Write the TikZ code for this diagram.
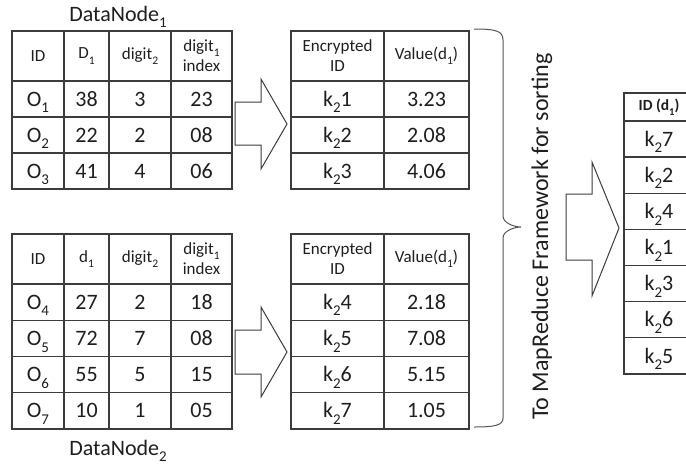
\documentclass[tikz,border=0pt]{standalone}
\usepackage{fontspec}
\setmainfont{Carlito}
\definecolor{gridc}{HTML}{3C3C3C}
\definecolor{inkc}{HTML}{1E1E1E}
\definecolor{bracec}{HTML}{555555}
% lowered, reduced index in the style of a word processor
\newcommand\dsub[1]{\raisebox{-0.30em}{\scalebox{0.68}{#1}}}
\tikzset{
  x=1pt, y=-1pt,
  every node/.style={text=inkc, inner sep=0pt},
  cell/.style={draw=gridc, line width=1.3pt, rectangle, anchor=center},
  headcell/.style={cell, align=center, font=\fontsize{17}{20}\selectfont},
  bodycell/.style={cell, font=\fontsize{22}{26}\selectfont, text height=14.2pt, text depth=0pt},
  blockarrow/.style={draw=gridc, line width=1pt, line join=miter, fill=white},
  nodelabel/.style={anchor=base, font=\fontsize{22}{26}\selectfont},
}
\begin{document}
\begin{tikzpicture}
\useasboundingbox (0,0) rectangle (686,467);
\clip (0,0) rectangle (686,467);

% ---------- DataNode 1 : plain table ----------
\node[nodelabel] (dn1) at (118,21) {DataNode\dsub{1}};
\foreach \cx/\w/\t [count=\c] in {38/52/ID, 86.5/45/D\dsub{1}, 140/62/digit\dsub{2}, 201.5/61/{digit\dsub{1}\\index}}
  \node[headcell, minimum width=\w, minimum height=50] (a-h\c) at (\cx,56) {\t};
\foreach \p/\q/\r/\s [count=\i] in {{O\dsub{1}}/38/3/23, {O\dsub{2}}/22/2/08, {O\dsub{3}}/41/4/06}{
  \node[bodycell, minimum width=52, minimum height=36] (a-\i-1) at (38,{81+36*(\i-1)+18}) {\p};
  \node[bodycell, minimum width=45, minimum height=36] (a-\i-2) at (86.5,{81+36*(\i-1)+18}) {\q};
  \node[bodycell, minimum width=62, minimum height=36] (a-\i-3) at (140,{81+36*(\i-1)+18}) {\r};
  \node[bodycell, minimum width=61, minimum height=36] (a-\i-4) at (201.5,{81+36*(\i-1)+18}) {\s};
}

% ---------- DataNode 1 : encrypted table ----------
\node[headcell, minimum width=93, minimum height=50] (b-h1) at (337.5,56) {Encrypted\\ID};
\node[headcell, minimum width=85, minimum height=50] (b-h2) at (426.5,56) {Value(d\dsub{1})};
\foreach \p/\q [count=\i] in {1/3.23, 2/2.08, 3/4.06}{
  \node[bodycell, minimum width=93, minimum height=36] (b-\i-1) at (337.5,{81+36*(\i-1)+18}) {k\dsub{2}\p};
  \node[bodycell, minimum width=85, minimum height=36] (b-\i-2) at (426.5,{81+36*(\i-1)+18}) {\q};
}

% ---------- DataNode 2 : plain table ----------
\node[nodelabel] (dn2) at (118,455) {DataNode\dsub{2}};
\foreach \cx/\w/\t [count=\c] in {38/52/ID, 86.5/45/d\dsub{1}, 140/62/digit\dsub{2}, 201.5/61/{digit\dsub{1}\\index}}
  \node[headcell, minimum width=\w, minimum height=50] (c-h\c) at (\cx,259) {\t};
\foreach \p/\q/\r/\s [count=\i] in {{O\dsub{4}}/27/2/18, {O\dsub{5}}/72/7/08, {O\dsub{6}}/55/5/15, {O\dsub{7}}/10/1/05}{
  \node[bodycell, minimum width=52, minimum height=36.25] (c-\i-1) at (38,{284+36.25*(\i-1)+18.125}) {\p};
  \node[bodycell, minimum width=45, minimum height=36.25] (c-\i-2) at (86.5,{284+36.25*(\i-1)+18.125}) {\q};
  \node[bodycell, minimum width=62, minimum height=36.25] (c-\i-3) at (140,{284+36.25*(\i-1)+18.125}) {\r};
  \node[bodycell, minimum width=61, minimum height=36.25] (c-\i-4) at (201.5,{284+36.25*(\i-1)+18.125}) {\s};
}

% ---------- DataNode 2 : encrypted table ----------
\node[headcell, minimum width=93, minimum height=50] (d-h1) at (337.5,259) {Encrypted\\ID};
\node[headcell, minimum width=85, minimum height=50] (d-h2) at (426.5,259) {Value(d\dsub{1})};
\foreach \p/\q [count=\i] in {4/2.18, 5/7.08, 6/5.15, 7/1.05}{
  \node[bodycell, minimum width=93, minimum height=36.25] (d-\i-1) at (337.5,{284+36.25*(\i-1)+18.125}) {k\dsub{2}\p};
  \node[bodycell, minimum width=85, minimum height=36.25] (d-\i-2) at (426.5,{284+36.25*(\i-1)+18.125}) {\q};
}

% ---------- block arrows ----------
\draw[blockarrow] (235,102) -- (261,102) -- (261,79) -- (287,124) -- (261,169) -- (261,145) -- (235,145) -- cycle;
\draw[blockarrow] (235,330) -- (261,330) -- (261,307) -- (287,352) -- (261,397) -- (261,374) -- (235,374) -- cycle;
\draw[blockarrow] (566,194) -- (592,194) -- (592,162) -- (619,228) -- (592,296) -- (592,260) -- (566,260) -- cycle;

% ---------- brace gathering both encrypted tables ----------
\draw[bracec, line width=1pt]
  (474,29) .. controls (496,29) and (503,31) .. (503,40)
  -- (503,216) .. controls (503,223) and (514,227) .. (521,227)
  .. controls (514,227) and (503,231) .. (503,238)
  -- (503,418) .. controls (503,425) and (496,427) .. (474,427);
\node[rotate=90, anchor=base west, font=\fontsize{24}{29}\selectfont] (mr) at (548,420) {To MapReduce Framework for sorting};

% ---------- sorted result ----------
\node[cell, font=\fontsize{15.5}{18}\bfseries\selectfont, minimum width=70, minimum height=28] (e-h) at (659,107) {ID (d\dsub{1})};
\foreach \p [count=\i] in {7,2,4,1,3,6,5}
  \node[bodycell, minimum width=70, minimum height=36.14] (e-\i) at (659,{121+36.14*(\i-1)+18.07}) {k\dsub{2}\p};
\end{tikzpicture}
\end{document}
